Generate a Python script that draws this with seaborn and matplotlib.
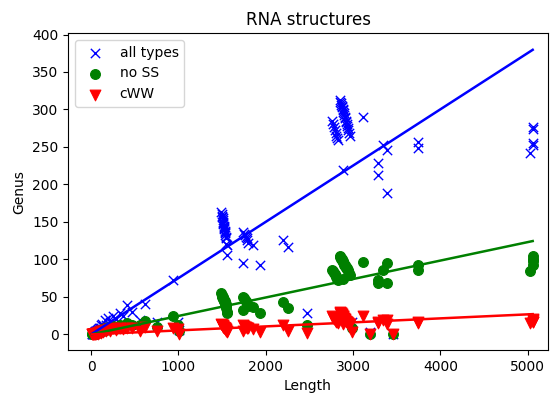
import numpy as np
import pandas as pd
import seaborn as sns
import matplotlib
matplotlib.use('Agg')
import matplotlib.pyplot as plt

# one row per structure: length and genus for the three kinds of pairs
length = [8, 12, 17, 21, 24, 30, 35, 41, 47, 55, 62, 70, 76, 76, 85, 93, 102, 110,
          118, 125, 140, 158, 170, 195, 215, 252, 280, 332, 360, 412, 470, 560, 618,
          755, 938, 990, 1005,
          1490, 1495, 1500, 1502, 1505, 1508, 1510, 1512, 1515, 1518, 1520, 1522,
          1525, 1528, 1530, 1532, 1535, 1540, 1545, 1550, 1555, 1560,
          1740, 1750, 1760, 1770, 1780, 1790, 1800, 1850, 1745, 1934,
          2197, 2254, 2471,
          2757, 2770, 2780, 2790, 2800, 2810, 2818, 2826,
          2850, 2855, 2860, 2865, 2870, 2875, 2880, 2885, 2890, 2895, 2900,
          2905, 2910, 2915, 2920, 2925, 2930, 2940, 2945, 2950, 2960, 2883,
          2986, 3112, 3190, 3284, 3284, 3341, 3387, 3387, 3455, 3741, 3741,
          5023, 5057, 5057, 5057, 5057]
genus_all = [0, 1, 1, 2, 1, 3, 2, 4, 3, 5, 4, 6, 7, 5, 8, 6, 9, 12,
             8, 14, 11, 19, 13, 22, 16, 25, 20, 28, 24, 39, 30, 19, 41,
             16, 72, 16, 6,
             163, 160, 158, 156, 155, 153, 150, 148, 147, 145, 143, 142,
             140, 138, 136, 135, 133, 130, 128, 120, 119, 106,
             136, 134, 132, 130, 128, 126, 122, 119, 95, 92,
             126, 116, 28,
             285, 280, 277, 272, 268, 265, 262, 259,
             313, 310, 308, 306, 305, 303, 301, 299, 297, 295, 293,
             290, 288, 285, 283, 280, 278, 275, 272, 268, 265, 219,
             16, 290, 3, 229, 213, 253, 246, 189, 0, 257, 249,
             242, 276, 274, 255, 252]
genus_noss = [0, 0, 1, 1, 0, 2, 1, 2, 1, 3, 2, 4, 3, 2, 4, 3, 5, 6,
              4, 7, 5, 8, 6, 10, 9, 11, 9, 12, 10, 15, 13, 12, 18,
              10, 25, 12, 4,
              55, 52, 51, 50, 50, 49, 48, 48, 47, 46, 46, 45,
              44, 44, 43, 42, 41, 40, 38, 35, 30, 28,
              50, 48, 46, 44, 42, 40, 38, 36, 32, 29,
              43, 35, 12,
              86, 84, 82, 80, 78, 76, 74, 72,
              104, 103, 102, 101, 100, 99, 98, 97, 96, 94, 93,
              92, 91, 90, 89, 88, 87, 86, 84, 82, 79, 74,
              8, 96, 0, 72, 68, 86, 95, 68, 0, 92, 86,
              85, 104, 101, 98, 93]
genus_cww = [0, 0, 0, 1, 0, 1, 0, 1, 0, 2, 1, 2, 2, 1, 3, 2, 3, 4,
             2, 5, 3, 6, 4, 7, 5, 8, 6, 8, 7, 9, 8, 5, 10,
             4, 8, 7, 1,
             14, 13, 13, 12, 12, 11, 11, 10, 10, 10, 9, 9,
             9, 8, 8, 8, 7, 7, 6, 5, 4, 3,
             12, 11, 10, 10, 9, 9, 8, 7, 5, 3,
             12, 5, 2,
             24, 22, 20, 19, 18, 17, 16, 15,
             30, 29, 29, 28, 27, 26, 25, 24, 23, 22, 21,
             20, 19, 18, 17, 17, 16, 15, 15, 14, 14, 14,
             3, 25, 1, 16, 15, 19, 19, 14, 1, 16, 15,
             15, 20, 19, 17, 16]

df = pd.DataFrame({'Length': length, 'all types': genus_all,
                   'no SS': genus_noss, 'cWW': genus_cww})

series = [('all types', 'blue', 'x', 45),
          ('no SS', 'green', 'o', 50),
          ('cWW', 'red', 'v', 60)]

fig = plt.figure(figsize=(5.5, 3.93), dpi=100)
ax = fig.add_axes([0.124, 0.109, 0.872, 0.807])

L = df['Length'].to_numpy(dtype=float)
xfit = np.array([L.min(), L.max()])

for name, col, mk, size in series:
    if mk == 'x':
        sns.scatterplot(data=df, x='Length', y=name, marker=mk, color=col, s=size,
                        linewidth=1.0, label=name, ax=ax, zorder=2)
    else:
        sns.scatterplot(data=df, x='Length', y=name, marker=mk, color=col, s=size,
                        edgecolor=col, linewidth=0.8, label=name, ax=ax, zorder=2)
    # least squares line through the origin
    g = df[name].to_numpy(dtype=float)
    slope = (L @ g) / (L @ L)
    sns.lineplot(x=xfit, y=slope * xfit, color=col, lw=1.8, legend=False,
                 ax=ax, zorder=3)

ax.set_xlim(-262, 5230)
ax.set_ylim(-21, 402)
ax.set_xticks([0, 1000, 2000, 3000, 4000, 5000])
ax.set_xlabel('Length')
ax.set_ylabel('Genus')
ax.set_title('RNA structures', fontsize=12)
ax.legend(loc='upper left', fontsize=10)

fig.savefig('out.png', dpi=100)
